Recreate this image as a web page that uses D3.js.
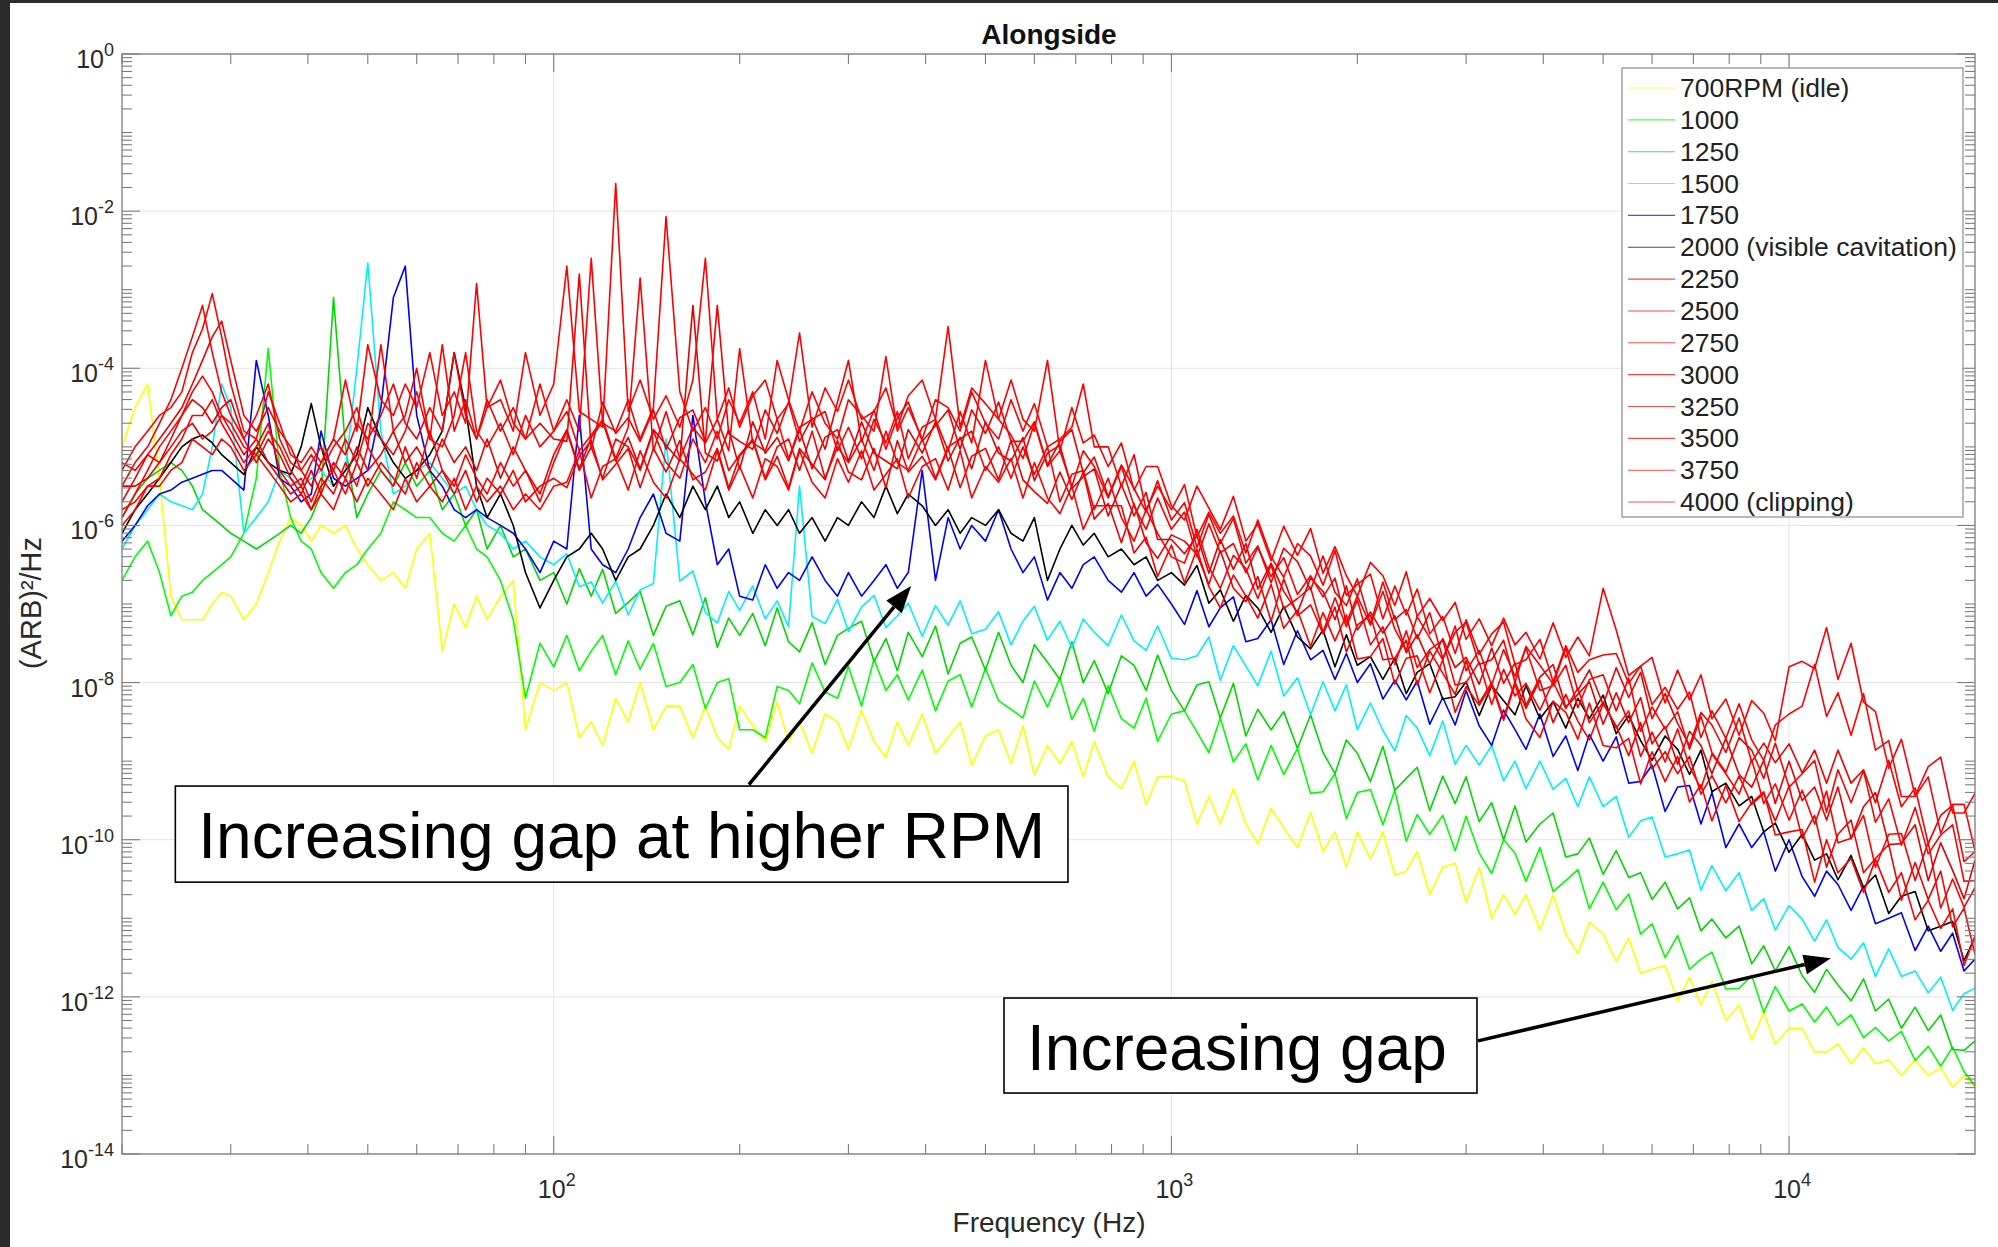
<!DOCTYPE html>
<html>
<head>
<meta charset="utf-8">
<script src="https://d3js.org/d3.v7.min.js"></script>
<style>
body { margin: 0; background: #fff; }
text { font-family: "Liberation Sans", Arial, Helvetica, sans-serif; }
</style>
</head>
<body>
<script>
// frequency bins (Hz) shared by every run
var freqHz = [20,21,22,23,24,25,26,27,28,29,30,
  31.5,33,34.5,36,37.5,39,40.5,42,44,46,48,50,
  52.5,55,57.5,60,63,66,69,72,75,78,82,86,90,95,100,
  105,110,115,120,126,132,138,145,152,160,168,176,184,192,200,
  210,220,230,240,250,262,275,288,300,315,330,345,360,375,395,415,435,455,475,500,525,550,575,600,630,660,690,720,750,790,830,870,910,950,1000,
  1050,1100,1150,1200,1260,1320,1380,1450,1520,1600,1680,1760,1840,1920,2000,2100,2200,2300,2400,2500,2620,2750,2880,3000,3150,3300,3450,3600,3750,3950,4150,4350,4550,4750,5000,5250,5500,5750,6000,6300,6600,6900,7200,7500,7900,8300,8700,9100,9500,10000,
  10500,11000,11500,12000,12600,13200,13800,14500,15200,16000,16800,17600,18400,19200,20000];

// PSD per run, stored as log10 of (ARB)^2/Hz
var psd700 = [-5.0,-4.5,-4.2,-5.4,-6.9,-7.2,-7.2,-7.2,-7.0,-6.85,-6.9,-7.2,-7.0,-6.6,-6.2,-5.9,-6.0,-6.2,-6.0,-6.1,-6.0,-6.3,-6.5,-6.7,-6.6,-6.8,-6.3,-6.1,-7.6,-7.0,-7.3,-6.9,-7.2,-6.9,-6.7,-8.6,-8.0,-8.1,
  -8.0,-8.7,-8.5,-8.8,-8.2,-8.5,-8.0,-8.6,-8.3,-8.3,-8.7,-8.3,-8.7,-8.85,-8.3,-8.55,-8.75,-8.25,-8.75,-8.5,-8.9,-8.4,-8.5,-8.85,-8.35,-8.75,-8.95,-8.5,-8.8,-8.4,-8.9,-8.7,-8.5,-9.05,-8.68,-8.6,-9.03,-8.55,-9.18,-8.8,-9.03,-8.75,-9.2,-8.75,-9.2,-9.35,-9.0,-9.55,-9.2,-9.2,
  -9.25,-9.8,-9.45,-9.8,-9.35,-9.8,-10.05,-9.6,-9.85,-10.1,-9.65,-10.15,-9.9,-10.35,-9.9,-10.25,-9.9,-10.45,-10.4,-10.15,-10.7,-10.35,-10.3,-10.8,-10.35,-11.0,-10.7,-10.95,-10.7,-11.15,-10.7,-11.2,-11.45,-11.05,-11.2,-11.55,-11.25,-11.7,-11.65,-11.6,-12.05,-11.75,-12.1,-11.8,-12.3,-12.1,-12.55,-12.2,-12.6,-12.4,-12.4,-12.7,-12.7,-12.6,-12.85,-12.65,-12.85,-12.8,-13.0,-12.8,-13.0,-12.9,-13.15,-13.0,-13.15];
var psd1000 = [-6.7,-6.4,-6.2,-6.6,-7.15,-6.9,-6.85,-6.7,-6.6,-6.5,-6.4,-6.1,-5.4,-3.75,-5.3,-5.9,-6.2,-6.3,-6.6,-6.8,-6.6,-6.5,-6.3,-6.1,-5.7,-5.8,-5.9,-5.9,-6.1,-6.2,-6.0,-6.3,-6.4,-6.7,-7.2,-8.2,-7.5,-7.8,
  -7.4,-7.85,-7.6,-7.4,-7.9,-7.47,-7.83,-7.5,-8.05,-8.0,-7.77,-8.33,-8.0,-7.95,-8.6,-8.6,-8.7,-8.05,-8.1,-8.27,-7.75,-8.12,-8.2,-7.8,-8.3,-7.7,-8.1,-7.9,-8.22,-7.84,-8.36,-7.98,-7.9,-8.31,-7.82,-8.23,-8.34,-8.45,-7.98,-8.31,-7.94,-8.47,-8.2,-8.62,-8.04,-8.46,-8.58,-8.2,-8.75,-8.4,
  -8.36,-8.63,-8.89,-8.45,-9.01,-8.78,-9.24,-8.8,-9.17,-8.84,-9.41,-9.39,-9.16,-9.73,-9.4,-9.36,-9.81,-9.37,-10.02,-9.68,-9.93,-9.69,-10.14,-9.7,-10.17,-10.43,-10.0,-10.17,-10.53,-10.1,-10.66,-10.52,-10.38,-10.88,-10.54,-10.89,-10.69,-11.2,-11.07,-11.5,-11.22,-11.65,-11.52,-11.43,-11.9,-11.89,-11.73,-12.2,-11.87,-12.18,-12.09,-12.32,-12.13,-12.36,-12.23,-12.52,-12.39,-12.56,-12.44,-12.81,-12.63,-12.88,-12.64,-12.95,-13.13];
var psd1250 = [-5.9,-5.6,-5.4,-5.3,-5.2,-5.3,-5.5,-5.8,-5.9,-6.0,-6.1,-6.2,-6.3,-6.2,-6.1,-6.0,-6.1,-5.9,-5.6,-3.1,-5.0,-5.9,-5.6,-5.3,-5.5,-5.2,-5.5,-5.3,-5.8,-5.6,-6.0,-5.8,-6.3,-6.0,-6.4,-6.3,-6.7,-6.6,
  -7.0,-6.55,-6.9,-6.56,-7.12,-6.98,-6.84,-7.4,-7.03,-6.96,-7.39,-6.92,-7.55,-7.18,-7.4,-7.12,-7.53,-7.05,-7.48,-7.61,-7.24,-7.77,-7.4,-7.31,-7.22,-7.73,-7.44,-7.85,-7.36,-7.67,-7.28,-7.89,-7.5,-7.42,-7.84,-7.36,-7.78,-8.0,-7.52,-7.74,-7.96,-7.48,-8.0,-7.72,-8.14,-7.66,-7.78,-8.1,-7.65,-8.1,
  -8.36,-8.03,-7.99,-8.45,-8.01,-8.68,-8.34,-8.6,-8.37,-8.84,-8.41,-8.89,-9.16,-8.73,-8.9,-9.26,-8.81,-9.37,-9.22,-9.08,-9.63,-9.19,-9.54,-9.2,-9.77,-9.53,-10.0,-9.57,-10.03,-9.8,-9.66,-10.22,-10.18,-9.98,-10.44,-10.14,-10.48,-10.42,-10.76,-10.54,-10.88,-10.74,-11.16,-11.01,-11.25,-11.1,-11.58,-11.35,-11.67,-11.36,-11.73,-11.94,-11.65,-11.85,-12.05,-11.77,-12.18,-12.03,-12.4,-12.13,-12.43,-12.23,-12.67,-12.68,-12.56];
var psd1500 = [-6.3,-6.0,-5.8,-5.6,-5.7,-5.75,-5.8,-5.6,-5.0,-4.2,-4.5,-6.1,-5.9,-5.7,-5.3,-5.4,-5.5,-5.4,-5.3,-5.5,-5.3,-4.0,-2.66,-4.8,-5.6,-5.5,-5.3,-5.2,-5.4,-5.6,-5.5,-5.8,-6.0,-6.1,-6.3,-6.2,-6.4,-6.5,
  -6.36,-6.78,-6.72,-6.99,-6.71,-7.14,-6.82,-6.74,-4.9,-6.71,-6.58,-7.11,-7.24,-6.84,-7.08,-6.77,-7.19,-6.96,-7.29,-5.5,-7.16,-7.25,-6.94,-7.35,-7.04,-6.89,-7.3,-7.15,-6.99,-7.41,-7.02,-7.27,-6.96,-7.38,-7.32,-7.1,-7.52,-7.22,-7.03,-7.46,-7.22,-7.56,-7.19,-7.36,-7.53,-7.14,-7.47,-7.59,-7.28,-7.69,
  -7.71,-7.66,-7.42,-7.97,-7.53,-7.79,-8.04,-7.6,-8.17,-7.94,-8.41,-7.99,-8.36,-8.03,-8.6,-8.26,-8.61,-8.87,-8.42,-8.58,-8.93,-8.49,-9.04,-8.8,-9.05,-8.8,-9.25,-9.0,-9.35,-9.0,-9.36,-9.22,-9.58,-9.2,-9.58,-9.45,-9.97,-9.76,-9.71,-10.22,-10.18,-10.13,-10.64,-10.33,-10.65,-10.42,-10.9,-10.75,-11.15,-10.84,-11.01,-11.29,-11.02,-11.37,-11.52,-11.31,-11.74,-11.39,-11.74,-11.67,-11.95,-11.75,-12.17,-11.96,-11.89];
var psd1750 = [-6.2,-6.0,-5.75,-5.6,-5.55,-5.45,-5.4,-5.35,-5.3,-5.3,-5.4,-5.55,-3.9,-4.6,-5.4,-5.5,-5.7,-5.6,-4.8,-5.4,-5.5,-5.4,-5.3,-4.5,-3.1,-2.7,-4.6,-5.3,-5.5,-5.8,-5.9,-5.8,-5.9,-6.0,-6.1,-6.3,-6.6,-6.2,
  -6.3,-4.6,-6.3,-6.5,-6.6,-6.3,-5.9,-5.6,-6.1,-6.2,-4.6,-5.7,-6.5,-6.3,-6.9,-6.95,-6.5,-6.8,-6.6,-6.7,-6.4,-6.7,-6.9,-6.6,-6.9,-6.7,-6.5,-6.8,-6.6,-5.3,-6.7,-5.9,-6.3,-6.0,-6.2,-5.8,-6.3,-6.6,-6.4,-6.95,-6.6,-6.8,-6.5,-6.4,-6.7,-6.85,-6.6,-6.9,-6.75,-7.0,
  -7.26,-6.83,-7.29,-7.05,-6.91,-7.48,-7.44,-7.2,-7.77,-7.34,-7.71,-7.59,-7.96,-7.63,-8.0,-7.76,-8.21,-7.97,-8.22,-7.98,-8.53,-8.19,-8.54,-8.1,-8.55,-8.8,-8.35,-8.6,-8.85,-8.4,-8.94,-8.68,-9.12,-8.66,-9.0,-8.69,-9.28,-9.26,-9.05,-9.64,-9.33,-9.31,-9.8,-9.4,-10.1,-9.8,-10.1,-9.9,-10.4,-10.0,-10.47,-10.72,-10.4,-10.57,-10.9,-10.59,-11.07,-11.0,-10.93,-11.41,-11.1,-11.42,-11.19,-11.67,-11.52];
var psd2000 = [-6.1,-5.8,-5.6,-5.4,-5.2,-5.0,-4.9,-4.85,-4.95,-5.1,-5.2,-5.35,-5.0,-5.2,-5.3,-5.35,-5.0,-4.45,-5.0,-5.5,-5.3,-5.1,-4.5,-4.9,-5.2,-5.4,-5.3,-5.1,-4.8,-3.8,-4.5,-5.5,-5.9,-5.6,-6.0,-6.6,-7.05,-6.7,
  -6.4,-6.3,-6.1,-6.3,-6.7,-6.4,-6.3,-6.0,-5.6,-5.9,-5.5,-5.8,-5.5,-5.9,-5.7,-6.1,-5.8,-6.0,-5.8,-6.1,-5.9,-6.2,-5.9,-6.0,-5.7,-5.9,-5.5,-5.85,-5.6,-5.75,-6.0,-5.8,-6.1,-5.9,-6.0,-5.8,-6.1,-6.2,-5.9,-6.7,-6.3,-6.0,-6.25,-6.1,-6.4,-6.3,-6.5,-6.4,-6.7,-6.6,
  -6.76,-6.51,-6.99,-6.82,-7.22,-6.89,-7.05,-7.36,-7.03,-7.42,-7.57,-7.33,-7.8,-7.39,-7.78,-7.67,-7.96,-7.69,-8.14,-7.87,-7.76,-8.21,-8.18,-7.99,-8.42,-8.04,-8.23,-8.41,-8.04,-8.46,-8.24,-8.58,-8.2,-8.46,-8.16,-8.65,-8.42,-8.74,-8.99,-8.68,-8.85,-9.17,-8.86,-9.39,-9.28,-9.57,-9.45,-9.9,-9.79,-10.16,-9.93,-10.26,-10.18,-10.51,-10.2,-10.61,-10.45,-10.94,-10.72,-10.66,-11.16,-11.1,-11.04,-11.54,-11.24];
var psd2250 = [-5.8,-5.7,-5.5,-5.5,-5.3,-5.2,-4.9,-5.0,-5.1,-4.9,-5.0,-5.3,-5.1,-5.3,-5.5,-5.7,-5.6,-5.8,-5.6,-5.8,-5.4,-5.7,-5.4,-5.6,-5.8,-5.4,-5.7,-5.5,-5.7,-5.4,-5.8,-5.5,-5.7,-5.5,-5.8,-5.6,-5.8,-5.5,
  -5.45,-5.05,-5.65,-5.25,-5.15,-5.55,-5.05,-5.45,-5.65,-5.15,-5.35,-5.55,-5.05,-5.55,-5.25,-5.65,-5.15,-5.25,-5.55,-5.05,-5.45,-5.65,-5.15,-5.45,-5.05,-5.55,-5.35,-5.15,-5.65,-5.25,-5.15,-5.55,-5.05,-5.65,-5.25,-5.45,-5.15,-5.65,-5.2,-5.65,-5.85,-5.5,-6.05,-5.75,-5.75,-5.75,-6.35,-6.15,-6.65,-6.25,
  -6.73,-6.3,-6.78,-7.05,-6.63,-6.9,-7.18,-6.75,-7.31,-7.08,-7.54,-7.11,-7.47,-7.14,-7.7,-7.67,-7.44,-8.02,-7.69,-7.66,-8.13,-7.71,-8.38,-8.05,-8.29,-8.03,-8.48,-8.02,-8.46,-8.7,-8.24,-8.38,-8.72,-8.26,-8.8,-8.83,-8.71,-9.29,-8.88,-9.26,-8.94,-9.52,-9.3,-9.76,-9.31,-9.77,-9.53,-9.39,-9.94,-9.9,-9.87,-10.54,-10.0,-10.42,-10.24,-10.67,-10.25,-10.67,-10.42,-11.02,-10.77,-11.13,-10.88,-11.6,-11.23];
var psd2500 = [-5.2,-5.3,-5.1,-5.2,-5.0,-4.8,-4.7,-4.9,-4.8,-4.6,-4.8,-5.1,-4.9,-5.2,-5.4,-5.6,-5.5,-5.8,-5.5,-5.3,-5.6,-5.2,-5.5,-5.2,-5.4,-5.6,-5.2,-5.5,-5.3,-5.6,-5.3,-5.7,-5.4,-5.6,-5.3,-5.7,-5.5,-5.4,
  -5.52,-5.12,-4.92,-5.42,-5.22,-5.02,-5.52,-5.02,-5.32,-4.92,-5.42,-5.32,-5.02,-5.52,-5.12,-4.92,-5.42,-5.12,-5.52,-5.02,-5.22,-5.42,-4.92,-5.32,-5.42,-5.02,-5.52,-4.92,-5.32,-5.12,-5.42,-5.02,-5.52,-5.12,-5.02,-5.42,-4.92,-5.42,-5.57,-5.72,-5.32,-5.67,-5.32,-5.92,-5.72,-6.22,-5.72,-6.22,-6.42,-6.12,
  -6.2,-6.37,-6.75,-6.32,-6.8,-6.97,-6.65,-7.22,-6.68,-7.15,-7.01,-7.38,-7.04,-7.61,-7.27,-7.14,-7.71,-7.69,-7.46,-8.03,-7.6,-7.88,-8.15,-7.72,-8.26,-8.0,-8.45,-7.99,-8.33,-7.97,-8.51,-8.15,-8.49,-8.73,-8.27,-8.55,-8.93,-8.51,-9.1,-8.88,-9.16,-8.94,-9.42,-9.18,-9.53,-9.19,-9.55,-9.41,-9.76,-9.32,-9.98,-9.69,-10.35,-9.93,-9.75,-10.42,-10.24,-10.06,-10.77,-10.29,-10.76,-10.4,-11.11,-10.87,-11.46];
var psd2750 = [-6.0,-5.8,-5.5,-5.4,-5.1,-4.9,-4.6,-4.6,-4.4,-4.7,-4.9,-5.2,-5.0,-4.7,-5.3,-5.5,-5.4,-5.7,-5.4,-5.6,-5.2,-5.5,-5.0,-5.3,-5.5,-5.0,-5.4,-4.8,-5.3,-5.5,-5.1,-5.4,-5.6,-5.2,-5.5,-5.3,-5.7,-5.2,
  -4.8,-5.3,-5.0,-5.4,-4.9,-5.0,-5.3,-4.8,-5.2,-5.4,-4.9,-5.2,-4.8,-5.3,-5.1,-4.9,-5.4,-5.0,-4.9,-5.3,-4.8,-5.4,-5.0,-5.2,-4.9,-5.3,-4.8,-5.2,-5.3,-4.9,-5.4,-5.0,-4.9,-4.8,-5.3,-5.0,-5.4,-5.0,-5.35,-5.0,-5.7,-5.35,-5.3,-5.8,-5.4,-5.9,-6.2,-5.8,-6.1,-6.4,
  -6.48,-6.05,-6.53,-6.8,-6.38,-6.55,-6.93,-6.5,-7.06,-6.93,-6.79,-7.36,-6.92,-7.29,-6.95,-7.52,-7.29,-7.77,-7.34,-7.81,-7.58,-7.46,-8.03,-8.0,-7.74,-8.28,-7.83,-8.17,-8.01,-8.35,-7.99,-8.33,-8.07,-8.51,-8.25,-8.58,-8.36,-8.94,-8.63,-9.01,-8.59,-9.07,-9.35,-8.91,-9.16,-9.42,-8.98,-9.54,-9.29,-9.75,-9.37,-9.8,-9.38,-10.04,-9.98,-9.69,-10.35,-9.93,-9.92,-10.52,-10.03,-10.87,-10.5,-10.86,-10.61];
var psd3000 = [-5.5,-5.5,-5.4,-5.2,-4.9,-4.6,-4.4,-4.5,-4.7,-4.5,-4.4,-4.9,-5.2,-4.9,-5.1,-5.4,-5.6,-5.3,-5.6,-5.2,-5.4,-5.0,-5.3,-5.1,-4.8,-5.2,-5.0,-5.3,-4.9,-5.2,-5.0,-5.3,-4.9,-5.4,-5.0,-5.3,-5.6,-5.1,
  -4.78,-5.28,-4.88,-4.68,-5.18,-4.88,-5.28,-4.78,-4.98,-5.18,-3.2,-5.08,-5.18,-4.78,-5.28,-4.68,-5.08,-4.88,-5.18,-4.78,-5.28,-4.88,-4.78,-5.18,-4.68,-5.08,-5.18,-5.28,-4.78,-5.08,-4.68,-5.18,-4.88,-5.28,-4.68,-5.08,-5.18,-4.88,-5.43,-5.08,-4.98,-5.53,-5.38,-5.28,-5.88,-5.48,-5.88,-5.58,-6.18,-6.18,
  -6.36,-6.13,-6.61,-6.18,-6.56,-6.23,-6.81,-6.48,-6.84,-7.11,-6.67,-6.84,-7.2,-6.77,-7.33,-7.1,-7.37,-7.15,-7.62,-7.39,-7.76,-7.44,-7.81,-7.68,-8.02,-7.56,-8.01,-7.75,-8.29,-7.93,-7.77,-8.31,-8.15,-7.99,-8.53,-8.13,-8.51,-8.19,-8.78,-8.56,-9.04,-8.62,-8.8,-9.16,-8.71,-9.17,-9.33,-8.99,-9.54,-9.0,-9.5,-9.33,-9.75,-9.33,-9.99,-9.58,-9.4,-10.06,-10.05,-9.81,-10.52,-10.04,-10.39,-10.75,-10.26];
var psd3250 = [-5.9,-5.6,-5.3,-5.0,-4.8,-4.6,-4.3,-4.1,-4.3,-4.6,-4.7,-5.0,-5.1,-4.8,-5.0,-5.3,-5.5,-5.2,-5.0,-5.3,-4.9,-5.2,-4.7,-4.9,-5.1,-4.8,-4.3,-4.9,-5.0,-4.6,-3.8,-4.8,-5.0,-4.7,-5.1,-4.6,-5.0,-4.8,
  -4.55,-5.05,-4.85,-4.65,-5.15,-4.75,-2.85,-5.05,-4.55,-5.15,-4.75,-4.95,-4.65,-5.05,-3.75,-4.95,-5.05,-4.65,-5.15,-4.75,-4.65,-4.55,-5.05,-4.75,-5.15,-4.65,-4.95,-4.55,-5.15,-4.75,-4.65,-5.05,-4.55,-4.95,-3.9,-4.65,-4.85,-5.15,-4.7,-5.25,-5.05,-5.5,-5.05,-5.25,-5.65,-5.25,-5.75,-6.05,-5.65,-6.05,
  -5.83,-6.4,-5.98,-6.35,-6.23,-6.6,-6.28,-6.65,-6.41,-6.88,-6.64,-6.91,-6.67,-7.24,-6.9,-7.27,-6.84,-7.32,-7.59,-7.16,-7.43,-7.71,-7.28,-7.85,-7.59,-8.03,-7.58,-7.92,-7.56,-8.1,-8.04,-7.78,-8.32,-7.96,-7.9,-8.36,-7.94,-8.62,-8.31,-8.59,-8.37,-8.85,-8.43,-8.89,-9.14,-8.7,-8.86,-9.22,-8.77,-9.33,-9.16,-8.99,-9.65,-9.11,-9.53,-9.12,-9.78,-9.48,-10.07,-9.59,-10.18,-9.94,-9.81,-10.53,-10.52];
var psd3500 = [-5.7,-5.4,-5.1,-4.9,-4.7,-4.5,-4.2,-3.9,-3.6,-3.4,-3.9,-4.6,-4.8,-4.5,-4.8,-5.0,-5.3,-5.5,-5.2,-4.9,-5.1,-4.7,-4.9,-4.6,-4.2,-4.7,-4.9,-4.5,-4.8,-3.8,-4.6,-4.9,-4.4,-4.8,-4.5,-4.9,-4.7,-4.9,
  -4.93,-2.8,-5.03,-4.43,-4.83,-4.63,-4.93,-4.53,-5.03,-4.63,-4.53,-4.93,-3.2,-4.83,-4.93,-5.03,-4.53,-4.83,-4.43,-4.93,-4.63,-5.03,-4.43,-3.9,-4.93,-4.53,-5.03,-4.63,-4.43,-4.93,-4.73,-4.53,-5.03,-4.53,-4.83,-4.43,-4.93,-4.93,-4.68,-5.23,-4.93,-4.78,-5.33,-5.13,-5.63,-5.23,-5.53,-5.83,-5.43,-5.93,
  -5.71,-6.28,-5.86,-6.23,-5.91,-6.48,-6.26,-6.73,-6.29,-6.46,-6.82,-6.39,-6.85,-7.02,-6.68,-7.25,-6.72,-7.2,-7.07,-7.44,-7.11,-7.69,-7.36,-7.23,-7.77,-7.71,-7.46,-8.0,-7.54,-7.78,-8.02,-7.56,-8.1,-7.84,-8.28,-7.81,-8.19,-7.87,-8.46,-8.14,-8.52,-8.8,-8.38,-8.54,-8.89,-8.45,-9.01,-8.77,-9.02,-8.78,-9.15,-8.86,-9.28,-8.86,-9.28,-9.11,-9.53,-8.99,-9.58,-9.34,-10.05,-9.69,-9.56,-10.28,-10.15];
var psd3750 = [-5.5,-5.2,-5.0,-4.7,-4.4,-4.0,-3.6,-3.2,-3.8,-4.3,-4.6,-4.9,-4.6,-4.2,-4.9,-5.2,-5.3,-5.1,-5.3,-5.0,-4.8,-4.5,-5.0,-3.7,-4.8,-4.6,-4.0,-4.9,-3.7,-4.8,-4.4,-4.9,-4.5,-4.15,-4.7,-4.9,-4.2,-4.8,
  -4.4,-4.8,-2.6,-4.7,-4.8,-4.4,-4.9,-4.5,-2.07,-4.3,-4.8,-4.5,-4.9,-4.4,-4.7,-4.3,-4.9,-3.9,-4.4,-4.8,-4.3,-4.7,-4.9,-4.4,-4.6,-4.8,-3.85,-4.8,-4.5,-4.9,-4.4,-4.5,-4.8,-4.3,-4.7,-4.9,-4.4,-4.8,-4.45,-5.0,-4.9,-4.75,-4.2,-5.0,-5.0,-5.5,-5.1,-5.8,-5.5,-5.8,
  -5.48,-6.15,-5.83,-6.1,-5.88,-6.35,-5.93,-6.4,-6.66,-6.23,-6.39,-6.76,-6.32,-6.89,-6.75,-6.62,-7.19,-6.77,-7.14,-6.81,-7.38,-7.16,-7.63,-7.2,-7.64,-7.38,-7.23,-7.77,-7.71,-7.45,-7.99,-7.53,-7.87,-7.71,-7.65,-7.63,-8.01,-7.79,-8.28,-8.06,-8.34,-8.12,-8.7,-8.36,-8.71,-8.27,-8.73,-8.99,-8.54,-8.4,-8.3,-7.77,-8.43,-8.13,-8.67,-8.14,-8.86,-8.74,-9.45,-9.45,-9.2,-9.92,-9.55,-9.55,-10.14];
var psd4000 = [-5.3,-5.0,-4.8,-4.6,-4.5,-4.3,-3.8,-3.5,-3.05,-3.6,-4.2,-4.8,-4.9,-4.3,-4.7,-5.1,-5.2,-5.0,-5.2,-4.9,-4.15,-4.8,-3.7,-4.4,-4.6,-4.2,-4.5,-3.8,-4.6,-4.3,-4.7,-2.92,-4.5,-4.4,-4.8,-3.8,-4.6,-4.2,
  -2.7,-4.55,-4.65,-4.75,-1.65,-4.55,-4.15,-4.65,-4.35,-4.75,-4.15,-2.6,-4.65,-4.25,-4.75,-4.35,-4.15,-4.65,-4.45,-3.55,-4.75,-4.25,-4.55,-4.15,-4.65,-4.55,-4.25,-4.75,-4.35,-4.15,-4.65,-3.47,-4.75,-4.25,-4.45,-4.65,-4.15,-4.65,-4.8,-3.9,-5.05,-4.5,-4.95,-4.85,-5.25,-4.95,-5.55,-5.25,-5.25,-5.75,
  -5.93,-5.5,-5.78,-6.05,-5.63,-6.2,-5.98,-6.45,-6.01,-6.38,-6.04,-6.61,-6.27,-6.64,-6.9,-6.47,-6.64,-7.02,-6.59,-7.16,-6.93,-7.21,-6.98,-7.45,-7.19,-7.53,-7.18,-7.52,-7.36,-7.7,-7.24,-7.68,-7.42,-7.66,-6.8,-7.33,-7.91,-7.79,-7.68,-8.26,-7.84,-8.22,-7.9,-8.46,-8.21,-8.67,-8.23,-8.39,-8.74,-7.8,-7.73,-7.82,-7.3,-7.96,-7.5,-8.25,-8.37,-9.09,-8.72,-9.44,-9.07,-8.95,-9.66,-9.66,-9.41];

var rpmLabels = ['700RPM (idle)', '1000', '1250', '1500', '1750', '2000 (visible cavitation)',
  '2250', '2500', '2750', '3000', '3250', '3500', '3750', '4000 (clipping)'];
var runValues = [psd700, psd1000, psd1250, psd1500, psd1750, psd2000,
  psd2250, psd2500, psd2750, psd3000, psd3250, psd3500, psd3750, psd4000];

// axis ticks (exponents of ten)
var xTickExp = [2, 3, 4];
var yTickExp = [0, -2, -4, -6, -8, -10, -12, -14];

// callouts: text, box corners and arrow (from, to) in data units
var callouts = [
  { text: 'Increasing gap at higher RPM', box: [24.4, 680, -9.317, -10.54], arrow: [207, -9.30, 379, -6.77] },
  { text: 'Increasing gap', box: [535.8, 3124, -12.015, -13.224], arrow: [3136, -12.56, 11690, -11.51] }
];

var lineColors = ['#ffff00', '#00ff00', '#00d800', '#00f0ff', '#0000ff', '#000000',
  '#ff0000', '#f20000', '#ff0000', '#e60000', '#ff0000', '#f20000', '#ff0000', '#ff0000'];

var W = 1998, H = 1247;
var L = 122, R = 1975, T = 54, B = 1154;
var axisColor = '#7d7d7d';

var svg = d3.select('body').append('svg')
  .attr('width', W)
  .attr('height', H);

svg.append('rect').attr('width', W).attr('height', H).attr('fill', '#fff');
// dark frame of the screenshot
svg.append('rect').attr('x', 0).attr('y', 0).attr('width', 10).attr('height', H).attr('fill', '#2b2b2b');
svg.append('rect').attr('x', 0).attr('y', 0).attr('width', W).attr('height', 3).attr('fill', '#2b2b2b');

var x = d3.scaleLog().domain([20, 20000]).range([L, R]);
var y = d3.scaleLog().domain([1e-14, 1]).range([B, T]);

// grid
var grid = svg.append('g').attr('stroke', '#e3e3e3').attr('stroke-width', 1);
yTickExp.forEach(function (p) {
  var yy = y(Math.pow(10, p));
  grid.append('line').attr('x1', L).attr('x2', R).attr('y1', yy).attr('y2', yy);
});
xTickExp.forEach(function (p) {
  var xx = x(Math.pow(10, p));
  grid.append('line').attr('x1', xx).attr('x2', xx).attr('y1', T).attr('y2', B);
});

// data lines
svg.append('defs').append('clipPath').attr('id', 'plotclip')
  .append('rect').attr('x', L).attr('y', T).attr('width', R - L).attr('height', B - T);

var lineFn = d3.line()
  .x(function (d) { return x(d[0]); })
  .y(function (d) { return y(d[1]); });

var plot = svg.append('g').attr('clip-path', 'url(#plotclip)');
runValues.forEach(function (vals, i) {
  var pts = freqHz.map(function (f, j) { return [f, Math.pow(10, vals[j])]; });
  plot.append('path')
    .datum(pts)
    .attr('fill', 'none')
    .attr('stroke', lineColors[i])
    .attr('stroke-width', 1.6)
    .attr('stroke-linejoin', 'round')
    .attr('d', lineFn);
});

// ticks
var ticks = svg.append('g').attr('stroke', axisColor).attr('stroke-width', 1.1);
var yMinor = [];
for (var n = -14; n < 0; n++) {
  for (var k = 1; k < 10; k++) {
    if (k === 1 && n % 2 === 0) continue;
    yMinor.push(k * Math.pow(10, n));
  }
}
var xMinor = [];
for (var m = 1; m <= 4; m++) {
  for (var k2 = 2; k2 < 10; k2++) {
    var v = k2 * Math.pow(10, m);
    if (v >= 20 && v < 20000) xMinor.push(v);
  }
}
function yTick(v, len) {
  var yy = y(v);
  ticks.append('line').attr('x1', L).attr('x2', L + len).attr('y1', yy).attr('y2', yy);
  ticks.append('line').attr('x1', R).attr('x2', R - len).attr('y1', yy).attr('y2', yy);
}
function xTick(v, len) {
  var xx = x(v);
  ticks.append('line').attr('x1', xx).attr('x2', xx).attr('y1', B).attr('y2', B - len);
  ticks.append('line').attr('x1', xx).attr('x2', xx).attr('y1', T).attr('y2', T + len);
}
yMinor.forEach(function (v) { yTick(v, 10); });
yTickExp.forEach(function (p) { yTick(Math.pow(10, p), 18); });
xMinor.forEach(function (v) { xTick(v, 10); });
xTickExp.forEach(function (p) { xTick(Math.pow(10, p), 18); });

// box
svg.append('rect')
  .attr('x', L).attr('y', T).attr('width', R - L).attr('height', B - T)
  .attr('fill', 'none').attr('stroke', axisColor).attr('stroke-width', 1.3);

// tick labels
var labelColor = '#2a2a2a';
yTickExp.forEach(function (p) {
  var t = svg.append('text')
    .attr('x', 114).attr('y', y(Math.pow(10, p)) + 14)
    .attr('text-anchor', 'end').attr('fill', labelColor);
  t.append('tspan').attr('font-size', 25).text('10');
  t.append('tspan').attr('font-size', 18).attr('dy', -12).text(p);
});
xTickExp.forEach(function (p) {
  var t = svg.append('text')
    .attr('x', x(Math.pow(10, p)) + 3).attr('y', 1198)
    .attr('text-anchor', 'middle').attr('fill', labelColor);
  t.append('tspan').attr('font-size', 25).text('10');
  t.append('tspan').attr('font-size', 18).attr('dy', -12).text(p);
});

// titles
svg.append('text').attr('x', 1049).attr('y', 44).attr('text-anchor', 'middle')
  .attr('font-size', 28).attr('font-weight', 'bold').attr('fill', '#111').text('Alongside');
svg.append('text').attr('x', 1049).attr('y', 1232).attr('text-anchor', 'middle')
  .attr('font-size', 28).attr('fill', labelColor).text('Frequency (Hz)');
svg.append('text').attr('transform', 'translate(41,603) rotate(-90)').attr('text-anchor', 'middle')
  .attr('font-size', 29).attr('fill', labelColor).text('(ARB)\u00b2/Hz');

// legend
var legend = svg.append('g');
legend.append('rect')
  .attr('x', 1622).attr('y', 68).attr('width', 341).attr('height', 449)
  .attr('fill', '#fff').attr('stroke', '#8a8a8a').attr('stroke-width', 1.2);
rpmLabels.forEach(function (lab, i) {
  var cy = 88 + i * 31.85;
  legend.append('line').attr('x1', 1628).attr('x2', 1675).attr('y1', cy).attr('y2', cy)
    .attr('stroke', lineColors[i]).attr('stroke-width', 1.1).attr('stroke-opacity', 0.7);
  legend.append('text').attr('x', 1680).attr('y', cy + 9)
    .attr('font-size', 26.5).attr('fill', '#222').text(lab);
});

// callouts
var ann = svg.append('g');
function arrow(x1, y1, x2, y2) {
  var ang = Math.atan2(y2 - y1, x2 - x1);
  var hl = 27, hw = 10;
  var bx = x2 - hl * Math.cos(ang), by = y2 - hl * Math.sin(ang);
  ann.append('line').attr('x1', x1).attr('y1', y1).attr('x2', bx).attr('y2', by)
    .attr('stroke', '#000').attr('stroke-width', 3.5);
  var px = -Math.sin(ang) * hw, py = Math.cos(ang) * hw;
  ann.append('path')
    .attr('d', 'M' + x2 + ',' + y2 + 'L' + (bx + px) + ',' + (by + py) + 'L' + (bx - px) + ',' + (by - py) + 'Z')
    .attr('fill', '#000');
}
callouts.forEach(function (c) {
  var x0 = x(c.box[0]), x1 = x(c.box[1]);
  var y0 = y(Math.pow(10, c.box[2])), y1 = y(Math.pow(10, c.box[3]));
  ann.append('rect').attr('x', x0).attr('y', y0).attr('width', x1 - x0).attr('height', y1 - y0)
    .attr('fill', '#fff').attr('stroke', '#000').attr('stroke-width', 1.6);
  ann.append('text').attr('x', x0 + 23).attr('y', y0 + 72)
    .attr('font-size', 64).attr('fill', '#000').text(c.text);
  arrow(x(c.arrow[0]), y(Math.pow(10, c.arrow[1])), x(c.arrow[2]), y(Math.pow(10, c.arrow[3])));
});
</script>
</body>
</html>
